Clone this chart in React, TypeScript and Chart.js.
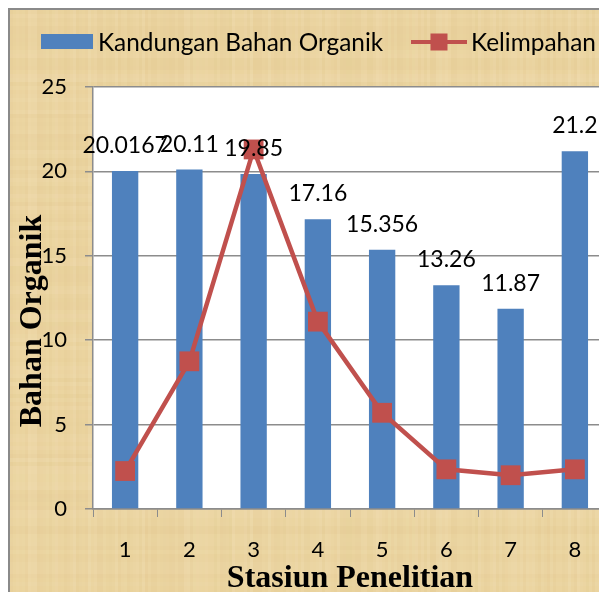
import React, { useEffect, useRef } from "react";
import { Chart, registerables } from "chart.js";

Chart.register(...registerables);

const categories = ["1", "2", "3", "4", "5", "6", "7", "8"];
const bahanOrganik = [20.0167, 20.11, 19.85, 17.16, 15.356, 13.26, 11.87, 21.2];
const kelimpahan = [2.25, 8.75, 21.3, 11.1, 5.7, 2.35, 2.0, 2.35];
const seriesNames = ["Kandungan Bahan Organik", "Kelimpahan"];
const yMin = 0;
const yMax = 25;
const yStep = 5;
const xTitle = "Stasiun Penelitian";
const yTitle = "Bahan Organik";

const BLUE = "#4f81bd";
const RED = "#c0504d";
const GRID = "#8c8c8c";
const SANS = "Lato, 'Noto Sans', sans-serif";
const SERIF = "'Liberation Serif', 'DejaVu Serif', serif";

function hash(n: number) {
  const s = Math.sin(n * 12.9898 + 78.233) * 43758.5453;
  return s - Math.floor(s);
}

const backgroundPlugin = {
  id: "bgPlugin",
  beforeDraw(chart: any) {
    const { ctx, width, height, chartArea } = chart;
    ctx.save();
    ctx.fillStyle = "#ebd4a0";
    ctx.fillRect(0, 0, width, height);
    // parchment-like streaks (decoration)
    for (let i = 0; i < width; i += 3) {
      const h = hash(i);
      ctx.fillStyle = h > 0.5 ? `rgba(255,245,220,${(h - 0.5) * 0.2})` : `rgba(200,160,90,${(0.5 - h) * 0.12})`;
      ctx.fillRect(i, 0, 3, height);
    }
    for (let j = 0; j < height; j += 4) {
      const h = hash(j + 1000);
      ctx.fillStyle = h > 0.5 ? `rgba(255,245,220,${(h - 0.5) * 0.18})` : `rgba(200,160,90,${(0.5 - h) * 0.1})`;
      ctx.fillRect(0, j, width, 4);
    }
    ctx.fillStyle = "#ffffff";
    ctx.fillRect(chartArea.left, chartArea.top, chartArea.right - chartArea.left, chartArea.bottom - chartArea.top);
    ctx.restore();
  },
};

const labelsPlugin = {
  id: "labelsPlugin",
  afterDatasetsDraw(chart: any) {
    const { ctx } = chart;
    const meta = chart.getDatasetMeta(1);
    ctx.save();
    ctx.font = `23px ${SANS}`;
    ctx.fillStyle = "#000";
    ctx.textAlign = "center";
    ctx.textBaseline = "alphabetic";
    meta.data.forEach((el: any, i: number) => {
      ctx.fillText(String(bahanOrganik[i]), el.x, el.y - 18);
    });
    ctx.restore();
  },
};

const decorPlugin = {
  id: "decorPlugin",
  afterDraw(chart: any) {
    const { ctx, chartArea } = chart;
    ctx.save();
    // legend
    ctx.font = `24.4px ${SANS}`;
    ctx.textBaseline = "middle";
    ctx.textAlign = "left";
    ctx.fillStyle = BLUE;
    ctx.fillRect(31, 24, 52, 15);
    ctx.fillStyle = "#000";
    ctx.fillText(seriesNames[0], 88, 33);
    ctx.strokeStyle = RED;
    ctx.lineWidth = 4;
    ctx.beginPath();
    ctx.moveTo(401, 32);
    ctx.lineTo(457, 32);
    ctx.stroke();
    ctx.fillStyle = RED;
    ctx.fillRect(429 - 8.5, 32 - 8.5, 17, 17);
    ctx.fillStyle = "#000";
    ctx.fillText(seriesNames[1], 461, 33);

    // axis titles
    ctx.font = `bold 32px ${SERIF}`;
    ctx.textAlign = "center";
    ctx.textBaseline = "alphabetic";
    ctx.fillText(xTitle, (chartArea.left + chartArea.right) / 2, 577);
    ctx.translate(23, 311);
    ctx.rotate(-Math.PI / 2);
    ctx.textBaseline = "middle";
    ctx.fillText(yTitle, 0, 0);
    ctx.restore();
  },
};

export default function App() {
  const ref = useRef<HTMLCanvasElement>(null);
  useEffect(() => {
    if (!ref.current) return;
    const chart = new Chart(ref.current, {
      type: "bar",
      data: {
        labels: categories,
        datasets: [
          {
            type: "line",
            label: seriesNames[1],
            data: kelimpahan,
            borderColor: RED,
            backgroundColor: RED,
            borderWidth: 4.5,
            pointStyle: "rect",
            pointRadius: 14,
            pointBackgroundColor: RED,
            pointBorderColor: RED,
            pointBorderWidth: 0,
            tension: 0,
            order: 0,
          } as any,
          {
            type: "bar",
            label: seriesNames[0],
            data: bahanOrganik,
            backgroundColor: BLUE,
            barPercentage: 0.41,
            categoryPercentage: 1,
            order: 1,
          },
        ],
      },
      options: {
        animation: false,
        responsive: false,
        layout: { padding: { top: 77, right: 23, left: 0, bottom: 0 } },
        plugins: { legend: { display: false }, tooltip: { enabled: false }, title: { display: false } },
        scales: {
          x: {
            offset: true,
            grid: { display: true, drawOnChartArea: false, drawTicks: true, tickLength: 8, color: GRID, offset: true },
            border: { color: GRID, width: 1.5 },
            ticks: { font: { family: SANS, size: 22 }, color: "#000", padding: 20 },
            afterFit(scale: any) {
              scale.height = 141;
            },
          },
          y: {
            min: yMin,
            max: yMax,
            ticks: { stepSize: yStep, font: { family: SANS, size: 22 }, color: "#000", padding: 18 },
            grid: { color: GRID, lineWidth: 1.5, tickLength: 8 },
            border: { color: GRID, width: 1.5 },
            afterFit(scale: any) {
              scale.width = 83;
            },
          },
        },
      },
      plugins: [backgroundPlugin, labelsPlugin, decorPlugin],
    });
    return () => chart.destroy();
  }, []);

  return (
    <div
      style={{
        position: "fixed",
        left: 8,
        top: 8,
        width: 591,
        height: 584,
        overflow: "hidden",
        borderTop: "2px solid #8a8a8a",
        borderLeft: "2px solid #8a8a8a",
        boxSizing: "border-box",
      }}
    >
      <canvas ref={ref} width={620} height={640} style={{ display: "block" }} />
    </div>
  );
}
